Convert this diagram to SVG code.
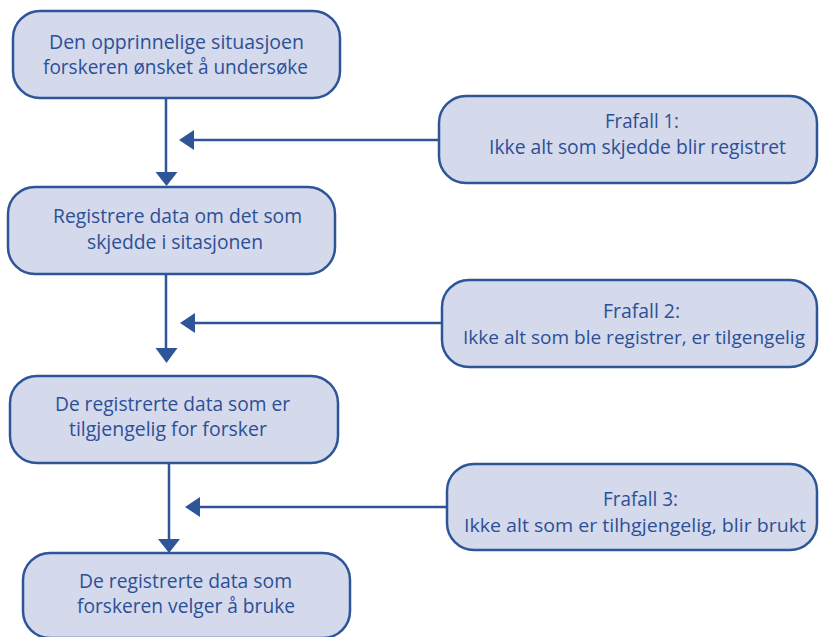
<svg xmlns="http://www.w3.org/2000/svg" width="819" height="637" viewBox="0 0 819 637">
  <style>
    .box { fill: #d5d9ec; stroke: #2d5597; stroke-width: 2.5; }
    .lbl { font-family: "Open Sans", "Liberation Sans", sans-serif; font-size: 20px; fill: #2c5096; }
    .long { font-size: 18.5px; }
    .wire { stroke: #2d5597; stroke-width: 2.5; fill: none; }
    .head { fill: #2d5597; }
  </style>

  <!-- connectors: vertical flow arrows and the side "frafall" arrows -->
  <g id="connectors">
    <line class="wire" x1="166" y1="98" x2="166" y2="173"/>
    <path class="head" d="M155.5,172 L177.5,172 L166.5,186 Z"/>
    <line class="wire" x1="439" y1="140" x2="192" y2="140"/>
    <path class="head" d="M179,140 L194,130 L194,150 Z"/>

    <line class="wire" x1="166" y1="274" x2="166" y2="349"/>
    <path class="head" d="M155.5,348 L177.5,348 L166.5,363 Z"/>
    <line class="wire" x1="442" y1="323" x2="194" y2="323"/>
    <path class="head" d="M180,323 L195,313 L195,333 Z"/>

    <line class="wire" x1="169" y1="463" x2="169" y2="540"/>
    <path class="head" d="M158,539 L180,539 L169,553 Z"/>
    <line class="wire" x1="447" y1="507" x2="198" y2="507"/>
    <path class="head" d="M185,507 L200,497 L200,517 Z"/>
  </g>

  <g id="node-situasjon">
    <rect class="box" x="13" y="11" width="327" height="87" rx="27"/>
    <text class="lbl" x="49" y="49" textLength="255" lengthAdjust="spacingAndGlyphs">Den opprinnelige situasjoen</text>
    <text class="lbl" x="43" y="74" textLength="265" lengthAdjust="spacingAndGlyphs">forskeren ønsket å undersøke</text>
  </g>

  <g id="node-frafall1">
    <rect class="box" x="439" y="96" width="378" height="87" rx="27"/>
    <text class="lbl" x="605" y="128" textLength="74" lengthAdjust="spacingAndGlyphs">Frafall 1:</text>
    <text class="lbl" x="489" y="154" textLength="297" lengthAdjust="spacingAndGlyphs">Ikke alt som skjedde blir registret</text>
  </g>

  <g id="node-registrere">
    <rect class="box" x="8" y="187" width="327" height="87" rx="27"/>
    <text class="lbl" x="53" y="223" textLength="249" lengthAdjust="spacingAndGlyphs">Registrere data om det som</text>
    <text class="lbl" x="87" y="249" textLength="176" lengthAdjust="spacingAndGlyphs">skjedde i sitasjonen</text>
  </g>

  <g id="node-frafall2">
    <rect class="box" x="442" y="280" width="375" height="87" rx="27"/>
    <text class="lbl" x="603" y="318" textLength="77" lengthAdjust="spacingAndGlyphs">Frafall 2:</text>
    <text class="lbl long" x="463" y="344" textLength="342" lengthAdjust="spacingAndGlyphs">Ikke alt som ble registrer, er tilgengelig</text>
  </g>

  <g id="node-tilgjengelig">
    <rect class="box" x="10" y="376" width="328" height="87" rx="27"/>
    <text class="lbl" x="55" y="411" textLength="235" lengthAdjust="spacingAndGlyphs">De registrerte data som er</text>
    <text class="lbl" x="69" y="436" textLength="198" lengthAdjust="spacingAndGlyphs">tilgjengelig for forsker</text>
  </g>

  <g id="node-frafall3">
    <rect class="box" x="447" y="464" width="370" height="86" rx="27"/>
    <text class="lbl" x="603" y="506" textLength="75" lengthAdjust="spacingAndGlyphs">Frafall 3:</text>
    <text class="lbl long" x="464" y="532" textLength="342" lengthAdjust="spacingAndGlyphs">Ikke alt som er tilhgjengelig, blir brukt</text>
  </g>

  <g id="node-brukt">
    <rect class="box" x="23" y="553" width="327" height="85" rx="27"/>
    <text class="lbl" x="79" y="588" textLength="213" lengthAdjust="spacingAndGlyphs">De registrerte data som</text>
    <text class="lbl" x="77" y="613" textLength="218" lengthAdjust="spacingAndGlyphs">forskeren velger å bruke</text>
  </g>
</svg>
